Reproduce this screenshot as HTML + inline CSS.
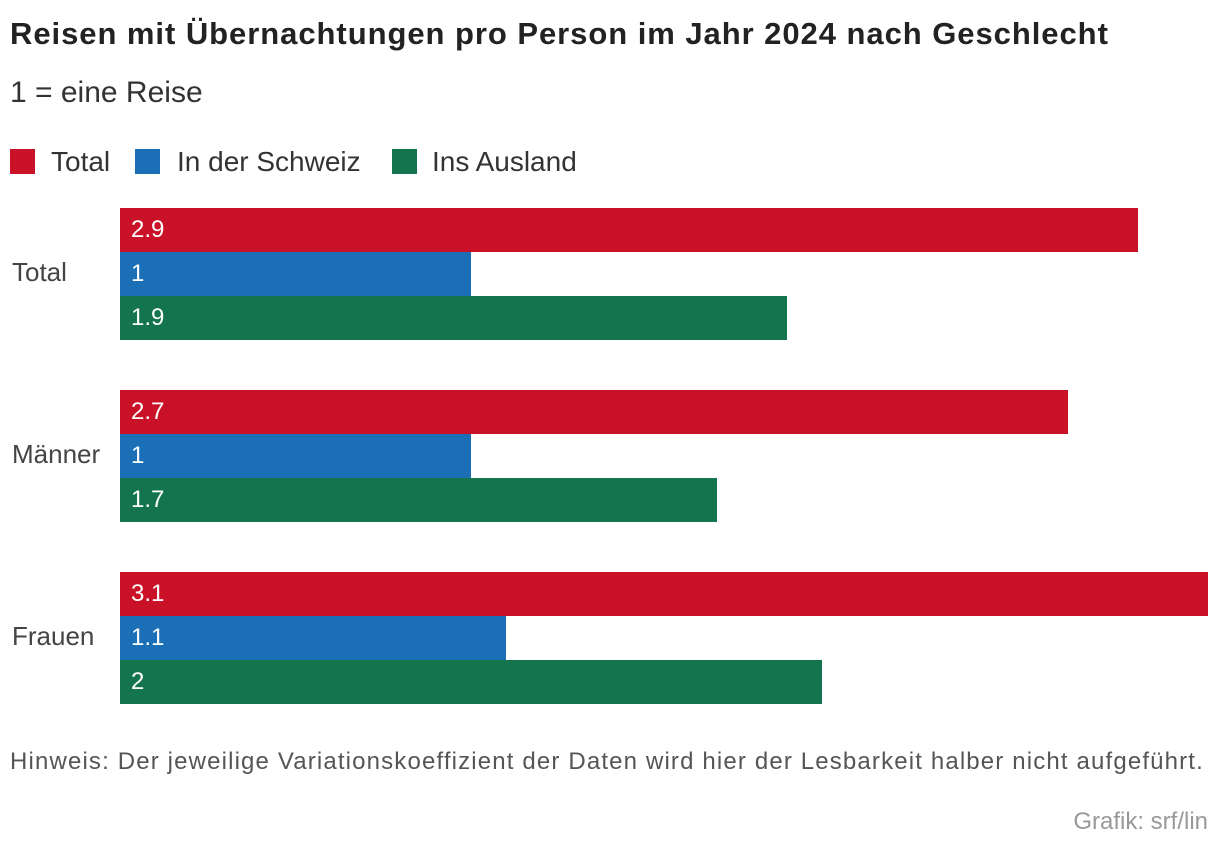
<!DOCTYPE html>
<html><head><meta charset="utf-8">
<style>
body{margin:0;width:1220px;height:856px;background:#fff;font-family:"Liberation Sans",sans-serif;position:relative;overflow:hidden;color:#222}
.t{position:absolute;white-space:nowrap}
</style></head><body>
<div class="t" style="left:10px;top:16px;font-size:31px;font-weight:bold;color:#222;letter-spacing:0.95px">Reisen mit Übernachtungen pro Person im Jahr 2024 nach Geschlecht</div>
<div class="t" style="left:10px;top:76px;font-size:30px;color:#333">1 = eine Reise</div>
<div style="position:absolute;left:10px;top:146px;font-size:28px;color:#333">
 <span style="position:absolute;left:0;top:0;white-space:nowrap"><span style="display:inline-block;width:25px;height:25px;background:#c91127;vertical-align:-3px;margin-right:16px"></span>Total</span>
 <span style="position:absolute;left:125px;top:0;white-space:nowrap"><span style="display:inline-block;width:25px;height:25px;background:#1a6fb7;vertical-align:-3px;margin-right:17px"></span>In der Schweiz</span>
 <span style="position:absolute;left:382px;top:0;white-space:nowrap"><span style="display:inline-block;width:25px;height:25px;background:#13744d;vertical-align:-3px;margin-right:15px"></span>Ins Ausland</span>
</div>
<div id="chart"></div>
<div class="t" style="left:10px;top:748px;font-size:24px;color:#555;letter-spacing:1.15px">Hinweis: Der jeweilige Variationskoeffizient der Daten wird hier der Lesbarkeit halber nicht aufgeführt.</div>
<div class="t" style="right:12px;top:808px;font-size:24px;color:#999">Grafik: srf/lin</div>
<script>
const categories=["Total","Männer","Frauen"];
const totalValues=[2.9,2.7,3.1];
const schweizValues=[1,1,1.1];
const auslandValues=[1.9,1.7,2];
const labelsTotal=["2.9","2.7","3.1"];
const labelsSchweiz=["1","1","1.1"];
const labelsAusland=["1.9","1.7","2"];
const colors=["#c91127","#1a6fb7","#13744d"];
const x0=120,scale=351,top0=208,groupStep=182,barH=44;
const xw=v=>v*scale;
const chart=document.getElementById('chart');
const series=[[totalValues,labelsTotal,'total'],[schweizValues,labelsSchweiz,'schweiz'],[auslandValues,labelsAusland,'ausland']];
categories.forEach((c,i)=>{
  const gy=top0+i*groupStep;
  const lab=document.createElement('div');
  lab.className='t';
  
  
  lab.style.cssText=`left:12px;top:${gy+barH*1.5-17}px;font-size:26px;color:#444`;
  lab.textContent=c;chart.appendChild(lab);
  series.forEach((s,j)=>{
    const b=document.createElement('div');
    
    
    b.style.cssText=`position:absolute;left:${x0}px;top:${gy+j*barH}px;width:${xw(s[0][i])}px;height:${barH}px;background:${colors[j]};color:#fff;font-size:24px;line-height:${barH}px;padding-left:11px;box-sizing:border-box;white-space:nowrap`;
    b.textContent=s[1][i];chart.appendChild(b);
  });
});
</script>
</body></html>
